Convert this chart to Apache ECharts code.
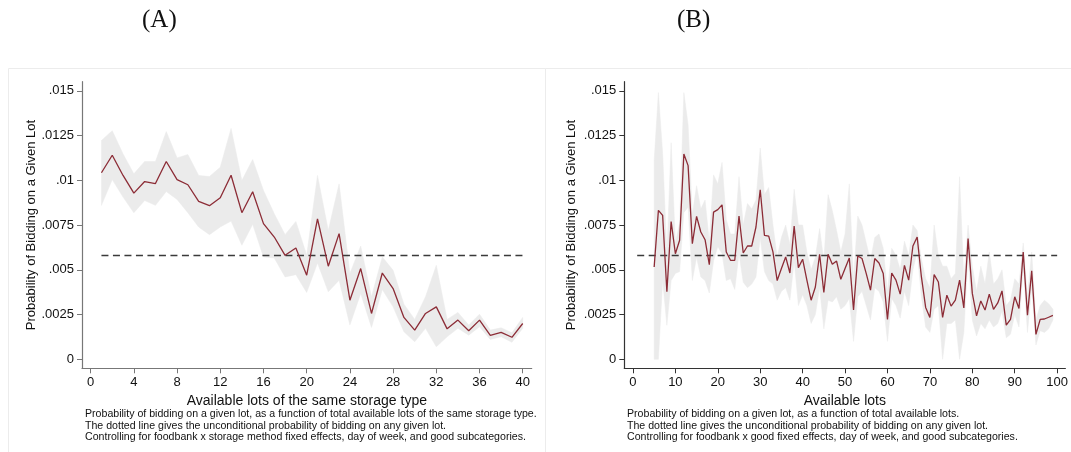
<!DOCTYPE html>
<html><head><meta charset="utf-8">
<script src="https://cdn.jsdelivr.net/npm/echarts@6/dist/echarts.min.js"></script>
<style>html,body{margin:0;padding:0;background:#fff}#c{width:1071px;height:452px}</style>
</head><body><div id="c"></div><script>
// ---------- Panel A data ----------
const lotsA = [1,2,3,4,5,6,7,8,9,10,11,12,13,14,15,16,17,18,19,20,21,22,23,24,25,26,27,28,29,30,31,32,33,34,35,36,37,38,39,40];
const probA = [0.01042,0.0114,0.01027,0.00928,0.00993,0.00982,0.01105,0.01004,0.00975,0.00882,0.00858,0.00902,0.01028,0.00819,0.00936,0.00758,0.00683,0.00581,0.00622,0.0047,0.00785,0.0052,0.00702,0.0033,0.00507,0.00256,0.00482,0.00395,0.00234,0.00163,0.00256,0.00293,0.0017,0.00219,0.00159,0.00219,0.00134,0.0015,0.00123,0.002];
const upperA = [0.01222,0.01277,0.01147,0.01036,0.01105,0.01105,0.01272,0.01125,0.01144,0.01027,0.01021,0.01073,0.0129,0.00999,0.01116,0.00943,0.00813,0.00696,0.0077,0.00581,0.01027,0.0072,0.0098,0.00479,0.00633,0.00349,0.00572,0.00497,0.00308,0.00223,0.00349,0.00525,0.00223,0.00262,0.00191,0.00252,0.00163,0.00176,0.00148,0.00234];
const lowerA = [0.0086,0.01004,0.00906,0.00819,0.00887,0.0086,0.00937,0.00893,0.00819,0.00739,0.00696,0.00739,0.00772,0.00637,0.00754,0.00572,0.00566,0.0046,0.00473,0.00373,0.00538,0.00377,0.00442,0.00191,0.00368,0.00178,0.0039,0.00293,0.00154,0.00098,0.00173,0.0007,0.00126,0.00173,0.00135,0.00182,0.00111,0.00126,0.00095,0.00173];
const uncondA = 0.0058;
const refRangeA = [1, 40];

// ---------- Panel B data ----------
const lotsB = [5,6,7,8,9,10,11,12,13,14,15,16,17,18,19,20,21,22,23,24,25,26,27,28,29,30,31,32,33,34,35,36,37,38,39,40,41,42,43,44,45,46,47,48,49,50,51,52,53,54,55,56,57,58,59,60,61,62,63,64,65,66,67,68,69,70,71,72,73,74,75,76,77,78,79,80,81,82,83,84,85,86,87,88,89,90,91,92,93,94,95,96,97,98,99];
const probB = [0.00516,0.00832,0.00804,0.00377,0.0077,0.0059,0.00665,0.01147,0.01082,0.00646,0.00798,0.00711,0.00668,0.00529,0.00822,0.00836,0.00863,0.00599,0.00553,0.00553,0.008,0.00594,0.00633,0.00633,0.00739,0.00947,0.00692,0.00688,0.006,0.0044,
 0.00507,0.00572,0.00482,0.00744,0.00512,0.00559,0.00442,0.0033,0.00404,0.00587,0.00373,0.00587,0.00531,0.00549,0.00447,0.00507,0.00566,0.00275,0.00577,0.00563,0.00479,0.00386,0.00563,0.00538,0.00479,0.00223,0.00482,0.00442,0.00364,0.00525,0.00442,0.00633,0.00683,0.0046,0.0029,
 0.00234,0.00473,0.00432,0.00234,0.00358,0.00297,0.0033,0.00442,0.00287,0.00674,0.00368,0.00243,0.00326,0.00275,0.00364,0.00279,0.00315,0.00382,0.00191,0.00223,0.00349,0.00284,0.00599,0.00247,0.00494,0.00139,0.00223,0.00225,0.00235,0.00245];
const upperB = [0.0111,0.0149,0.0115,0.0059,0.0121,0.0065,0.0076,0.0149,0.0131,0.0081,0.0097,0.0084,0.0089,0.0066,0.0103,0.0098,0.011,0.0078,0.007,0.007,0.0102,0.0075,0.0087,0.0084,0.0089,0.0118,0.0092,0.0096,0.0075,0.0057,
 0.0068,0.0075,0.0064,0.0095,0.0075,0.0075,0.006,0.005,0.0057,0.0073,0.0055,0.0092,0.0083,0.0072,0.006,0.007,0.0098,0.0045,0.008,0.0075,0.0065,0.0055,0.0068,0.007,0.0062,0.0038,0.0062,0.0058,0.005,0.0066,0.0058,0.0075,0.0072,0.0056,0.0045,
 0.004,0.0075,0.0058,0.0052,0.0052,0.0045,0.0048,0.0102,0.0045,0.0075,0.0052,0.0038,0.0052,0.0042,0.006,0.0042,0.0045,0.005,0.003,0.0033,0.0045,0.0042,0.0065,0.0035,0.006,0.0022,0.003,0.0033,0.0031,0.0028];
const lowerB = [0.0,0.0,0.0044,0.0019,0.0044,0.0048,0.0049,0.0082,0.0085,0.0044,0.0057,0.0046,0.0044,0.0037,0.0055,0.0063,0.0059,0.0044,0.0045,0.0039,0.0059,0.0043,0.004,0.0042,0.0046,0.0068,0.0049,0.0044,0.0042,0.0033,
 0.0038,0.004,0.0033,0.0055,0.003,0.0036,0.003,0.002,0.0025,0.004,0.0017,0.0033,0.0032,0.0035,0.0028,0.003,0.0034,0.001,0.0035,0.0038,0.003,0.0022,0.004,0.0038,0.0032,0.001,0.0034,0.003,0.0023,0.0038,0.003,0.005,0.006,0.0035,0.0018,
 0.0015,0.0028,0.003,0.0,0.002,0.002,0.0022,0.0,0.0015,0.0058,0.0022,0.0013,0.002,0.0017,0.0022,0.0018,0.002,0.0027,0.0012,0.0014,0.0025,0.0018,0.0052,0.0015,0.004,0.0008,0.0016,0.0015,0.0017,0.0022];
const uncondB = 0.0058;
const refRangeB = [1, 100];

// ---------- Ticks / labels ----------
const yTicks = [0,0.0025,0.005,0.0075,0.01,0.0125,0.015];
const yTickLabels = ['0','.0025','.005','.0075','.01','.0125','.015'];
const xTicksA = [0,4,8,12,16,20,24,28,32,36,40];
const xTicksB = [0,10,20,30,40,50,60,70,80,90,100];
const yName = 'Probability of Bidding on a Given Lot';
const xNameA = 'Available lots of the same storage type';
const xNameB = 'Available lots';
const titleA = '(A)';
const titleB = '(B)';
const notesA = ['Probability of bidding on a given lot, as a function of total available lots of the same storage type.',
  'The dotted line gives the unconditional probability of bidding on any given lot.',
  'Controlling for foodbank x storage method fixed effects, day of week, and good subcategories.'];
const notesB = ['Probability of bidding on a given lot, as a function of total available lots.',
  'The dotted line gives the unconditional probability of bidding on any given lot.',
  'Controlling for foodbank x good fixed effects, day of week, and good subcategories.'];

const FONT = '"Liberation Sans", Arial, Helvetica, sans-serif';
const LINE = '#8c2c36';
const BAND = '#ebebeb';

function yFmt(v){ let b=0; for(let i=0;i<yTicks.length;i++){ if(Math.abs(yTicks[i]-v)<Math.abs(yTicks[b]-v)) b=i; } return yTickLabels[b]; }

function bandSeries(xs, lo, hi, idx){
  return { type:'custom', xAxisIndex:idx, yAxisIndex:idx, silent:true, z:1,
    data: xs.map((x,i)=>[x, lo[i], hi[i]]),
    encode:{x:0, y:[1,2]},
    renderItem(params, api){
      if(params.dataIndex!==0) return null;
      const pts=[];
      for(let i=0;i<xs.length;i++) pts.push(api.coord([xs[i], hi[i]]));
      for(let i=xs.length-1;i>=0;i--) pts.push(api.coord([xs[i], lo[i]]));
      return {type:'polygon', shape:{points:pts}, style:{fill:BAND, stroke:BAND, lineWidth:0.5}};
    }
  };
}
function lineSeries(xs, ys, idx){
  return { type:'line', xAxisIndex:idx, yAxisIndex:idx, silent:true, z:3, showSymbol:false,
    data: xs.map((x,i)=>[x, ys[i]]), lineStyle:{color:LINE, width:1.3} };
}
function refSeries(range, v, idx){
  return { type:'line', xAxisIndex:idx, yAxisIndex:idx, silent:true, z:2, showSymbol:false,
    data: [[range[0], v],[range[1], v]], lineStyle:{color:'#3a3a3a', width:1.4, type:[7,4.5]} };
}
function xAxis(idx, min, max, ticks, name, col){
  return { type:'value', gridIndex:idx, min, max,
    axisLine:{show:true, onZero:false, lineStyle:{color:col, width:1.2}},
    axisTick:{show:true, length:5, customValues:ticks, lineStyle:{color:col}},
    axisLabel:{customValues:ticks, margin:8, color:'#111', fontFamily:FONT, fontSize:13, formatter:v=>String(Math.round(v))},
    splitLine:{show:false},
    name, nameLocation:'middle', nameGap:24, nameTextStyle:{color:'#111', fontFamily:FONT, fontSize:14} };
}
function yAxis(idx, gap, col){
  return { type:'value', gridIndex:idx, min:-0.000503, max:0.015508,
    axisLine:{show:true, onZero:false, lineStyle:{color:col, width:1.2}},
    axisTick:{show:true, length:5, customValues:yTicks, lineStyle:{color:col}},
    axisLabel:{customValues:yTicks, margin:8, color:'#111', fontFamily:FONT, fontSize:13, formatter:yFmt},
    splitLine:{show:false},
    name:yName, nameLocation:'middle', nameGap:gap, nameTextStyle:{color:'#111', fontFamily:FONT, fontSize:13} };
}
function notes(lines, x){
  return lines.map((t,i)=>({ type:'text', left:x, top:408.5 + i*11.7, silent:true,
    style:{text:t, fill:'#111', font:'10.6px ' + FONT} }));
}

const chart = echarts.init(document.getElementById('c'), null, {renderer:'canvas'});
chart.setOption({
  animation:false,
  backgroundColor:'#fff',
  grid:[
    {left:82, right:539.3, top:81.7, bottom:83.7},
    {left:624.3, right:2.7, top:81.7, bottom:83.7}
  ],
  xAxis:[ xAxis(0, -0.8, 40.83, xTicksA, xNameA, '#777'), xAxis(1, -2.04, 101.94, xTicksB, xNameB, '#333') ],
  yAxis:[ yAxis(0, 42, '#777'), yAxis(1, 46, '#333') ],
  series:[
    bandSeries(lotsA, lowerA, upperA, 0), refSeries(refRangeA, uncondA, 0), lineSeries(lotsA, probA, 0),
    bandSeries(lotsB, lowerB, upperB, 1), refSeries(refRangeB, uncondB, 1), lineSeries(lotsB, probB, 1)
  ],
  graphic:[
    {type:'rect', silent:true, z:-10, shape:{x:8.5, y:68.5, width:537, height:400}, style:{fill:null, stroke:'#ececec', lineWidth:1}},
    {type:'rect', silent:true, z:-10, shape:{x:545.5, y:68.5, width:540, height:400}, style:{fill:null, stroke:'#ececec', lineWidth:1}},
    {type:'text', left:142, top:8, silent:true, style:{text:titleA, fill:'#111', font:'25px "Liberation Serif", "DejaVu Serif", serif'}},
    {type:'text', left:677, top:8, silent:true, style:{text:titleB, fill:'#111', font:'25px "Liberation Serif", "DejaVu Serif", serif'}},
    ...notes(notesA, 85), ...notes(notesB, 627)
  ]
});
</script></body></html>
